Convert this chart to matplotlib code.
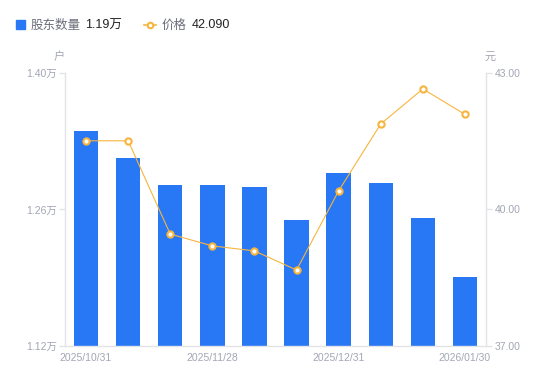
import matplotlib
matplotlib.use("Agg")
import matplotlib.pyplot as plt
from matplotlib.lines import Line2D

plt.rcParams['font.family'] = ['Liberation Sans', 'Noto Sans CJK SC', 'DejaVu Sans']

dates = ["2025/10/31", "", "", "2025/11/28", "", "", "2025/12/31", "", "", "2026/01/30"]
holders = [1.3405, 1.3128, 1.2851, 1.2851, 1.2831, 1.2492, 1.2974, 1.2872, 1.2513, 1.1908]
price = [41.51, 41.51, 39.46, 39.20, 39.09, 38.67, 40.41, 41.88, 42.65, 42.09]
left_ticks = [1.12, 1.26, 1.40]
left_labels = ["1.12万", "1.26万", "1.40万"]
right_ticks = [37.0, 40.0, 43.0]
right_labels = ["37.00", "40.00", "43.00"]

BLUE = "#2877F5"
ORANGE = "#F7B53D"
GRAY = "#A3A6B4"
SPINE = "#E3E4E8"

fig = plt.figure(figsize=(5.5, 3.81), dpi=100)
ax = fig.add_axes([65/550, 1-346/381, (486-65)/550, (346-73)/381])
x = list(range(len(holders)))
ax.bar(x, holders, width=0.58, color=BLUE, zorder=2)
ax.set_ylim(1.12, 1.40)
ax.set_xlim(-0.5, 9.5)
ax.set_yticks(left_ticks)
ax.set_yticklabels(left_labels)
ax.set_xticks(x)
ax.set_xticklabels(dates)

ax2 = ax.twinx()
ax2.plot(x, price, color=ORANGE, lw=0.8, marker='o', ms=4.5, mfc='white',
         mec=ORANGE, mew=1.5, zorder=3)
ax2.set_ylim(37, 43)
ax2.set_yticks(right_ticks)
ax2.set_yticklabels(right_labels)

for a in (ax, ax2):
    for s in a.spines.values():
        s.set_visible(False)
ax.spines['left'].set_visible(True)
ax.spines['bottom'].set_visible(True)
ax2.spines['right'].set_visible(True)
for s in (ax.spines['left'], ax.spines['bottom'], ax2.spines['right']):
    s.set_color(SPINE)
    s.set_linewidth(1)

ax.tick_params(axis='y', colors=SPINE, labelcolor=GRAY, labelsize=7.5, length=4, width=1, pad=2)
ax.tick_params(axis='x', length=0, labelcolor=GRAY, labelsize=7.5, pad=5)
ax2.tick_params(axis='y', colors=SPINE, labelcolor=GRAY, labelsize=7.5, length=4, width=1, pad=2)

fig.text(59/550, 1-57/381, "户", color=GRAY, fontsize=8, ha='center', va='center')
fig.text(490/550, 1-57/381, "元", color=GRAY, fontsize=8, ha='center', va='center')

# legend
LY = 1 - 25.5/381
fig.patches.append(plt.Rectangle((16/550, 1-29/381), 9/550, 9/381, transform=fig.transFigure,
                                 color=BLUE, figure=fig))
fig.text(31/550, LY, "股东数量", color="#6B6E7A", fontsize=9, va='center')
fig.text(85/550, LY, "1.19万", color="#222222", fontsize=9, va='center')
fig.lines.append(Line2D([144/550, 156/550], [1-24.5/381, 1-24.5/381], transform=fig.transFigure,
                        color=ORANGE, lw=1.2, figure=fig))
fig.lines.append(Line2D([150/550], [1-24.5/381], transform=fig.transFigure, marker='o', ms=4,
                        mfc='white', mec=ORANGE, mew=1.5, figure=fig))
fig.text(162/550, LY, "价格", color="#6B6E7A", fontsize=9, va='center')
fig.text(192/550, LY, "42.090", color="#222222", fontsize=9, va='center')

fig.savefig("out.png", dpi=100)
